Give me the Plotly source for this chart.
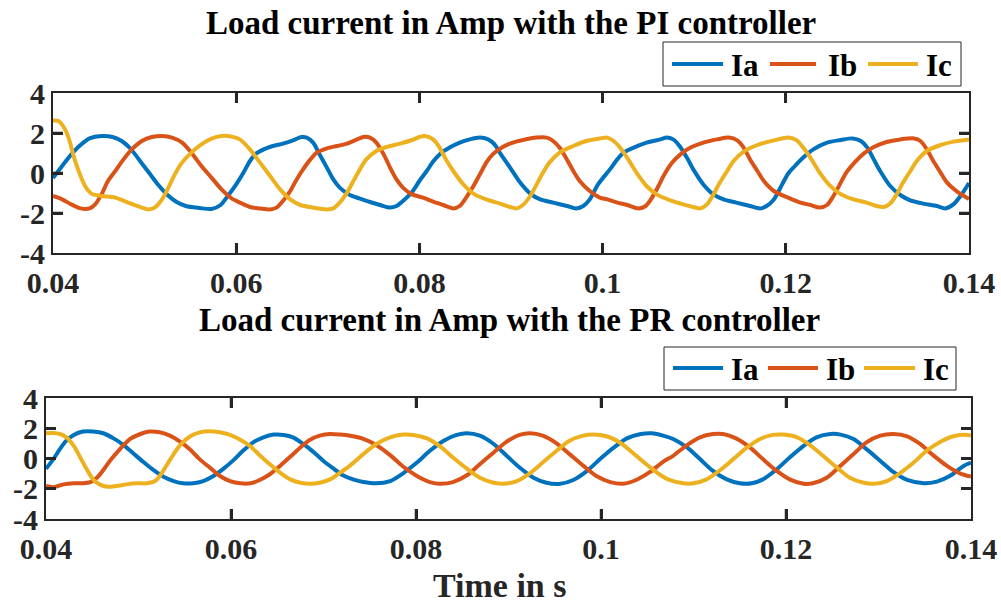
import plotly.graph_objects as go

# ---------------- Data: PI controller (top) ----------------
pi_ia_t = [0.0400, 0.0410, 0.0420, 0.0430, 0.0440, 0.0453, 0.0465, 0.0475, 0.0485, 0.0495,
           0.0505, 0.0515, 0.0525, 0.0535, 0.0545, 0.0560, 0.0573, 0.0583, 0.0590, 0.0600,
           0.0608, 0.0615, 0.0622, 0.0630, 0.0640, 0.0651, 0.0662, 0.0671, 0.0677, 0.0684,
           0.0691, 0.0699, 0.0706, 0.0713, 0.0724, 0.0735, 0.0746, 0.0757, 0.0768, 0.0775,
           0.0782, 0.0792, 0.0800, 0.0808, 0.0815, 0.0822, 0.0833, 0.0844, 0.0855, 0.0866,
           0.0875, 0.0882, 0.0889, 0.0899, 0.0910, 0.0921, 0.0932, 0.0946, 0.0961, 0.0971,
           0.0979, 0.0986, 0.0995, 0.1008, 0.1016, 0.1023, 0.1034, 0.1048, 0.1063, 0.1070,
           0.1077, 0.1084, 0.1092, 0.1099, 0.1110, 0.1121, 0.1132, 0.1146, 0.1161, 0.1172,
           0.1179, 0.1187, 0.1196, 0.1203, 0.1210, 0.1219, 0.1230, 0.1245, 0.1260, 0.1273,
           0.1282, 0.1289, 0.1296, 0.1303, 0.1314, 0.1325, 0.1336, 0.1350, 0.1365, 0.1374,
           0.1383, 0.1392, 0.1400]
pi_ia_v = [-0.25, 0.35, 0.93, 1.40, 1.73, 1.85, 1.80, 1.60, 1.20, 0.60,
           0.00, -0.60, -1.10, -1.45, -1.65, -1.75, -1.80, -1.60, -1.20, -0.57,
           0.02, 0.60, 0.98, 1.18, 1.35, 1.47, 1.63, 1.80, 1.77, 1.52,
           0.93, 0.27, -0.32, -0.73, -1.10, -1.28, -1.45, -1.60, -1.73, -1.65,
           -1.40, -0.95, -0.40, 0.10, 0.57, 0.93, 1.27, 1.52, 1.68, 1.77,
           1.68, 1.43, 0.93, 0.27, -0.48, -1.03, -1.32, -1.48, -1.65, -1.77,
           -1.65, -1.32, -0.57, 0.18, 0.68, 1.02, 1.27, 1.52, 1.68, 1.77,
           1.68, 1.35, 0.77, 0.18, -0.57, -1.07, -1.32, -1.48, -1.65, -1.77,
           -1.65, -1.32, -0.57, 0.00, 0.35, 0.77, 1.18, 1.52, 1.65, 1.73,
           1.60, 1.27, 0.68, 0.10, -0.65, -1.10, -1.37, -1.53, -1.65, -1.77,
           -1.57, -1.07, -0.50]

pi_ib_t = [0.0400, 0.0410, 0.0420, 0.0430, 0.0440, 0.0446, 0.0453, 0.0460, 0.0468, 0.0477,
           0.0486, 0.0497, 0.0508, 0.0519, 0.0530, 0.0541, 0.0551, 0.0562, 0.0573, 0.0584,
           0.0595, 0.0604, 0.0615, 0.0626, 0.0637, 0.0644, 0.0651, 0.0659, 0.0666, 0.0673,
           0.0681, 0.0688, 0.0699, 0.0710, 0.0721, 0.0732, 0.0739, 0.0746, 0.0753, 0.0761,
           0.0768, 0.0775, 0.0782, 0.0792, 0.0804, 0.0815, 0.0826, 0.0837, 0.0844, 0.0851,
           0.0859, 0.0866, 0.0873, 0.0880, 0.0891, 0.0902, 0.0913, 0.0928, 0.0939, 0.0946,
           0.0953, 0.0961, 0.0968, 0.0975, 0.0986, 0.0997, 0.1005, 0.1016, 0.1027, 0.1039,
           0.1047, 0.1054, 0.1061, 0.1068, 0.1076, 0.1085, 0.1096, 0.1110, 0.1125, 0.1138,
           0.1147, 0.1154, 0.1161, 0.1169, 0.1176, 0.1187, 0.1205, 0.1216, 0.1227, 0.1237,
           0.1245, 0.1252, 0.1259, 0.1266, 0.1276, 0.1285, 0.1296, 0.1310, 0.1325, 0.1340,
           0.1347, 0.1354, 0.1361, 0.1369, 0.1376, 0.1387, 0.1400]
pi_ib_v = [-1.15, -1.32, -1.57, -1.77, -1.77, -1.57, -1.07, -0.40, 0.10, 0.68,
           1.18, 1.60, 1.80, 1.85, 1.77, 1.52, 1.02, 0.35, -0.23, -0.82,
           -1.27, -1.48, -1.70, -1.77, -1.82, -1.73, -1.40, -0.90, -0.32, 0.18,
           0.68, 1.02, 1.23, 1.35, 1.47, 1.68, 1.80, 1.77, 1.52, 0.93,
           0.27, -0.32, -0.73, -1.07, -1.23, -1.43, -1.60, -1.77, -1.65, -1.23,
           -0.65, -0.07, 0.52, 0.93, 1.30, 1.52, 1.65, 1.77, 1.77, 1.60,
           1.27, 0.68, 0.10, -0.40, -0.90, -1.23, -1.32, -1.48, -1.60, -1.77,
           -1.65, -1.23, -0.65, -0.03, 0.52, 0.93, 1.27, 1.52, 1.68, 1.77,
           1.63, 1.27, 0.68, 0.10, -0.40, -0.90, -1.28, -1.48, -1.60, -1.73,
           -1.60, -1.15, -0.57, 0.02, 0.57, 0.97, 1.30, 1.55, 1.68, 1.73,
           1.60, 1.18, 0.60, 0.02, -0.48, -0.93, -1.30]

pi_ic_t = [0.0400, 0.0406, 0.0411, 0.0417, 0.0422, 0.0428, 0.0435, 0.0442, 0.0453, 0.0468,
           0.0482, 0.0497, 0.0504, 0.0511, 0.0519, 0.0526, 0.0533, 0.0540, 0.0551, 0.0562,
           0.0573, 0.0584, 0.0595, 0.0604, 0.0615, 0.0626, 0.0637, 0.0648, 0.0659, 0.0670,
           0.0684, 0.0699, 0.0706, 0.0713, 0.0721, 0.0728, 0.0735, 0.0742, 0.0753, 0.0764,
           0.0779, 0.0792, 0.0800, 0.0806, 0.0815, 0.0822, 0.0829, 0.0837, 0.0848, 0.0859,
           0.0873, 0.0888, 0.0899, 0.0906, 0.0913, 0.0921, 0.0928, 0.0935, 0.0942, 0.0953,
           0.0968, 0.0982, 0.0997, 0.1005, 0.1012, 0.1019, 0.1028, 0.1037, 0.1048, 0.1059,
           0.1074, 0.1088, 0.1099, 0.1107, 0.1114, 0.1121, 0.1128, 0.1136, 0.1143, 0.1154,
           0.1169, 0.1187, 0.1203, 0.1212, 0.1219, 0.1228, 0.1237, 0.1248, 0.1259, 0.1274,
           0.1288, 0.1299, 0.1307, 0.1314, 0.1321, 0.1328, 0.1336, 0.1343, 0.1354, 0.1369,
           0.1383, 0.1400]
pi_ic_v = [2.63, 2.60, 2.35, 1.77, 0.93, 0.10, -0.65, -1.03, -1.15, -1.23,
           -1.48, -1.73, -1.82, -1.73, -1.32, -0.73, -0.07, 0.47, 1.02, 1.43,
           1.72, 1.85, 1.82, 1.68, 1.18, 0.52, -0.15, -0.82, -1.32, -1.60,
           -1.73, -1.82, -1.77, -1.48, -0.98, -0.40, 0.18, 0.68, 1.10, 1.30,
           1.47, 1.65, 1.80, 1.85, 1.68, 1.27, 0.68, 0.10, -0.57, -1.03,
           -1.32, -1.53, -1.70, -1.77, -1.60, -1.15, -0.57, 0.02, 0.52, 1.02,
           1.35, 1.60, 1.73, 1.77, 1.60, 1.27, 0.68, 0.02, -0.65, -1.07,
           -1.37, -1.57, -1.70, -1.77, -1.57, -1.07, -0.48, 0.10, 0.60, 1.07,
           1.40, 1.63, 1.78, 1.63, 1.27, 0.68, 0.02, -0.62, -1.03, -1.32,
           -1.48, -1.65, -1.70, -1.53, -1.07, -0.48, 0.10, 0.60, 1.10, 1.40,
           1.57, 1.68]

# ---------------- Data: PR controller (bottom) ----------------
pr_ia_t = [0.0400, 0.0408, 0.0415, 0.0422, 0.0430, 0.0440, 0.0451, 0.0462, 0.0473, 0.0484,
           0.0494, 0.0505, 0.0516, 0.0527, 0.0538, 0.0548, 0.0559, 0.0570, 0.0581, 0.0592,
           0.0603, 0.0613, 0.0624, 0.0635, 0.0646, 0.0657, 0.0667, 0.0678, 0.0689, 0.0700,
           0.0711, 0.0721, 0.0732, 0.0743, 0.0757, 0.0772, 0.0786, 0.0801, 0.0815, 0.0830,
           0.0844, 0.0855, 0.0869, 0.0884, 0.0898, 0.0912, 0.0927, 0.0941, 0.0956, 0.0970,
           0.0985, 0.0999, 0.1014, 0.1028, 0.1043, 0.1055, 0.1068, 0.1078, 0.1093, 0.1107,
           0.1121, 0.1136, 0.1150, 0.1163, 0.1175, 0.1190, 0.1204, 0.1219, 0.1233, 0.1248,
           0.1259, 0.1273, 0.1287, 0.1302, 0.1316, 0.1331, 0.1349, 0.1363, 0.1377, 0.1392,
           0.1400]
pr_ia_v = [-0.67, -0.04, 0.62, 1.18, 1.56, 1.78, 1.78, 1.67, 1.33, 0.89,
           0.36, -0.22, -0.76, -1.20, -1.49, -1.64, -1.64, -1.49, -1.16, -0.67,
           -0.09, 0.51, 1.07, 1.40, 1.58, 1.56, 1.40, 0.96, 0.44, -0.16,
           -0.67, -1.11, -1.38, -1.55, -1.64, -1.49, -0.98, -0.27, 0.51, 1.18,
           1.56, 1.67, 1.51, 0.96, 0.18, -0.60, -1.27, -1.60, -1.67, -1.42,
           -0.82, -0.04, 0.73, 1.33, 1.62, 1.67, 1.50, 1.29, 0.73, -0.04,
           -0.82, -1.38, -1.64, -1.64, -1.38, -0.71, 0.07, 0.84, 1.40, 1.62,
           1.58, 1.29, 0.62, -0.16, -0.89, -1.42, -1.64, -1.53, -1.16, -0.49,
           -0.27]

pr_ib_t = [0.0400, 0.0408, 0.0419, 0.0430, 0.0440, 0.0448, 0.0455, 0.0462, 0.0469, 0.0480,
           0.0491, 0.0502, 0.0512, 0.0523, 0.0534, 0.0545, 0.0556, 0.0566, 0.0577, 0.0588,
           0.0599, 0.0610, 0.0621, 0.0631, 0.0642, 0.0653, 0.0664, 0.0675, 0.0685, 0.0696,
           0.0707, 0.0718, 0.0729, 0.0743, 0.0757, 0.0772, 0.0786, 0.0801, 0.0815, 0.0826,
           0.0840, 0.0855, 0.0869, 0.0884, 0.0898, 0.0912, 0.0923, 0.0937, 0.0952, 0.0966,
           0.0981, 0.0995, 0.1010, 0.1024, 0.1038, 0.1053, 0.1067, 0.1078, 0.1093, 0.1107,
           0.1121, 0.1132, 0.1146, 0.1161, 0.1175, 0.1190, 0.1204, 0.1219, 0.1229, 0.1244,
           0.1258, 0.1273, 0.1287, 0.1302, 0.1316, 0.1331, 0.1345, 0.1359, 0.1374, 0.1388,
           0.1400]
pr_ib_v = [-1.82, -1.90, -1.71, -1.64, -1.64, -1.56, -1.27, -0.76, -0.16, 0.62,
           1.29, 1.62, 1.78, 1.73, 1.51, 1.11, 0.58, -0.04, -0.60, -1.16,
           -1.49, -1.64, -1.64, -1.42, -1.04, -0.49, 0.11, 0.73, 1.22, 1.51,
           1.62, 1.58, 1.50, 1.30, 0.89, 0.22, -0.53, -1.16, -1.56, -1.67,
           -1.56, -1.11, -0.38, 0.40, 1.11, 1.56, 1.67, 1.51, 1.00, 0.29,
           -0.49, -1.16, -1.56, -1.67, -1.42, -0.89, -0.22, 0.18, 0.89, 1.40,
           1.62, 1.62, 1.33, 0.73, -0.04, -0.82, -1.38, -1.67, -1.64, -1.27,
           -0.53, 0.29, 1.07, 1.51, 1.62, 1.47, 0.96, 0.22, -0.49, -0.98,
           -1.20]

pr_ic_t = [0.0400, 0.0408, 0.0415, 0.0422, 0.0430, 0.0437, 0.0444, 0.0451, 0.0458, 0.0466,
           0.0476, 0.0487, 0.0498, 0.0509, 0.0518, 0.0523, 0.0530, 0.0538, 0.0545, 0.0556,
           0.0566, 0.0577, 0.0588, 0.0599, 0.0610, 0.0621, 0.0631, 0.0642, 0.0653, 0.0664,
           0.0675, 0.0685, 0.0696, 0.0707, 0.0718, 0.0729, 0.0743, 0.0757, 0.0772, 0.0786,
           0.0797, 0.0812, 0.0826, 0.0840, 0.0855, 0.0869, 0.0884, 0.0894, 0.0909, 0.0923,
           0.0937, 0.0952, 0.0966, 0.0981, 0.0991, 0.1006, 0.1020, 0.1034, 0.1049, 0.1063,
           0.1074, 0.1089, 0.1100, 0.1114, 0.1129, 0.1143, 0.1158, 0.1172, 0.1186, 0.1197,
           0.1212, 0.1226, 0.1240, 0.1255, 0.1269, 0.1284, 0.1295, 0.1309, 0.1323, 0.1338,
           0.1352, 0.1367, 0.1381, 0.1396, 0.1400]
pr_ic_v = [1.67, 1.69, 1.62, 1.40, 0.84, 0.07, -0.71, -1.38, -1.71, -1.87,
           -1.82, -1.71, -1.64, -1.64, -1.49, -1.16, -0.49, 0.29, 0.89, 1.47,
           1.73, 1.80, 1.73, 1.56, 1.24, 0.80, 0.22, -0.38, -0.93, -1.38,
           -1.60, -1.67, -1.60, -1.38, -0.93, -0.45, 0.29, 0.96, 1.40, 1.58,
           1.56, 1.33, 0.80, 0.07, -0.67, -1.27, -1.60, -1.67, -1.49, -0.98,
           -0.27, 0.51, 1.18, 1.51, 1.58, 1.47, 1.07, 0.40, -0.38, -1.04,
           -1.42, -1.64, -1.64, -1.38, -0.76, -0.04, 0.73, 1.29, 1.56, 1.58,
           1.40, 0.89, 0.18, -0.60, -1.27, -1.60, -1.67, -1.49, -0.98, -0.27,
           0.51, 1.11, 1.47, 1.56, 1.51]

x_tickvals = [0.04, 0.06, 0.08, 0.10, 0.12, 0.14]
x_ticktext = ["0.04", "0.06", "0.08", "0.1", "0.12", "0.14"]
y_tickvals = [-4, -2, 0, 2, 4]
y_ticktext = ["-4", "-2", "0", "2", "4"]
names = ["Ia", "Ib", "Ic"]
colors = ["#0072BD", "#D95319", "#EDB120"]

W, H = 1001, 604
FONT = "Liberation Serif"
AX = "#262626"
TICKLEN = 10

fig = go.Figure()

top_series = [(pi_ia_t, pi_ia_v), (pi_ib_t, pi_ib_v), (pi_ic_t, pi_ic_v)]
bot_series = [(pr_ia_t, pr_ia_v), (pr_ib_t, pr_ib_v), (pr_ic_t, pr_ic_v)]

for (t, v), n, c in zip(top_series, names, colors):
    fig.add_trace(go.Scatter(x=t, y=v, mode="lines", name=n, showlegend=False,
                             line=dict(color=c, width=4, shape="spline", smoothing=0.8),
                             xaxis="x", yaxis="y"))
for (t, v), n, c in zip(bot_series, names, colors):
    fig.add_trace(go.Scatter(x=t, y=v, mode="lines", name=n, showlegend=False,
                             line=dict(color=c, width=4, shape="spline", smoothing=0.8),
                             xaxis="x2", yaxis="y2"))

tickfont = dict(family=FONT, size=30, color=AX, weight="bold")

def xax(domain, anchor, standoff):
    return dict(domain=domain, anchor=anchor, range=[0.04, 0.14], automargin=False,
                tickmode="array", tickvals=x_tickvals, ticktext=x_ticktext,
                ticks="inside", ticklen=TICKLEN, tickwidth=3, tickcolor=AX,
                showline=True, linecolor=AX, linewidth=2,
                mirror="allticks", showgrid=False, zeroline=False, tickfont=tickfont,
                ticklabelstandoff=standoff)

def yax(domain, anchor):
    return dict(domain=domain, anchor=anchor, range=[-4, 4], automargin=False,
                tickmode="array", tickvals=y_tickvals, ticktext=y_ticktext,
                ticks="inside", ticklen=TICKLEN, tickwidth=3, tickcolor=AX,
                showline=True, linecolor=AX, linewidth=2,
                mirror="allticks", showgrid=False, zeroline=False, tickfont=tickfont)

def px(x):
    return x / W

def py(y):
    return 1 - y / H

shapes = []
annotations = []

# ---- inside tick marks on all four sides (paper-space frame, values mapped through each
#      axis's range/domain so positions follow the same linear scale as the axes) ----
frames = [
    # (x-domain px, y-domain px) for each subplot
    ((53, 969), (93, 253)),
    ((46, 971), (398, 519)),
]
for (fx0, fx1), (fy0, fy1) in frames:
    for tv in x_tickvals[1:-1]:
        xp = fx0 + (tv - 0.04) / (0.14 - 0.04) * (fx1 - fx0)
        for ya, yb in ((fy1, fy1 - TICKLEN), (fy0, fy0 + TICKLEN)):
            shapes.append(dict(type="line", xref="paper", yref="paper",
                               x0=px(xp), x1=px(xp), y0=py(ya), y1=py(yb),
                               line=dict(color=AX, width=2.5), layer="above"))
    for tv in y_tickvals[1:-1]:
        yp = fy1 - (tv + 4) / 8 * (fy1 - fy0)
        for xa, xb in ((fx0, fx0 + TICKLEN), (fx1, fx1 - TICKLEN)):
            shapes.append(dict(type="line", xref="paper", yref="paper",
                               x0=px(xa), x1=px(xb), y0=py(yp), y1=py(yp),
                               line=dict(color=AX, width=2.5), layer="above"))

# ---- legend boxes (drawn as layout shapes + text, paper coordinates) ----
legend_specs = [
    # box (x0, x1, y0, y1), line y, [(line x0, x1, text x)]
    ((663, 961, 42, 86), 64, [(672, 723, 729), (770, 816, 826), (868, 918, 924)]),
    ((664, 956, 347, 390), 368, [(673, 723, 729), (768, 818, 824), (864, 915, 921)]),
]

for (bx0, bx1, by0, by1), ly, items in legend_specs:
    shapes.append(dict(type="rect", xref="paper", yref="paper",
                       x0=px(bx0), x1=px(bx1), y0=py(by1), y1=py(by0),
                       line=dict(color=AX, width=1), fillcolor="white", layer="above"))
    for (lx0, lx1, tx), n, c in zip(items, names, colors):
        shapes.append(dict(type="line", xref="paper", yref="paper",
                           x0=px(lx0), x1=px(lx1), y0=py(ly), y1=py(ly),
                           line=dict(color=c, width=4), layer="above"))
        annotations.append(dict(text=n, x=px(tx), y=py(ly + 1), xref="paper", yref="paper",
                                showarrow=False, xanchor="left", yanchor="middle",
                                font=dict(family=FONT, size=31, color="#000000", weight="bold")))

annotations += [
    dict(text="Load current in Amp with the PI controller", x=511 / W, y=1 - 23 / H,
         xref="paper", yref="paper", showarrow=False, xanchor="center", yanchor="middle",
         font=dict(family=FONT, size=33, color="#000000", weight="bold")),
    dict(text="Load current in Amp with the PR controller", x=510 / W, y=1 - 320 / H,
         xref="paper", yref="paper", showarrow=False, xanchor="center", yanchor="middle",
         font=dict(family=FONT, size=33, color="#000000", weight="bold")),
    dict(text="Time in s", x=500 / W, y=1 - 585 / H,
         xref="paper", yref="paper", showarrow=False, xanchor="center", yanchor="middle",
         font=dict(family=FONT, size=34, color=AX, weight="bold")),
]

fig.update_layout(
    template="none",
    width=W, height=H, margin=dict(l=0, r=0, t=0, b=0, autoexpand=False),
    paper_bgcolor="white", plot_bgcolor="white", showlegend=False,
    xaxis=xax([53 / W, 969 / W], "y", 2),
    yaxis=yax([1 - 253 / H, 1 - 93 / H], "x"),
    xaxis2=xax([46 / W, 971 / W], "y2", 2),
    yaxis2=yax([1 - 519 / H, 1 - 398 / H], "x2"),
    shapes=shapes,
    annotations=annotations,
)

fig.write_html("out.html")
